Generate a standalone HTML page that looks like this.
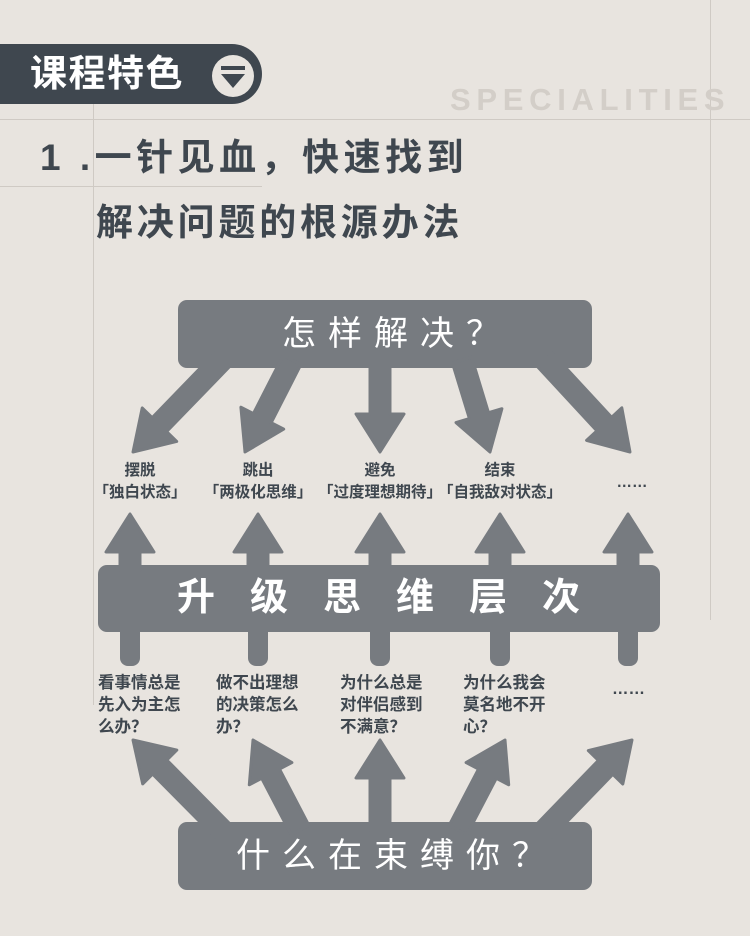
<!DOCTYPE html>
<html><head><meta charset="utf-8">
<style>
html,body{margin:0;padding:0;}
body{width:750px;height:936px;background:#e8e4df;position:relative;overflow:hidden;font-family:"Liberation Sans","Noto Sans CJK SC",sans-serif;}
.abs{position:absolute;}
.vl{position:absolute;width:1px;background:#cfcac4;}
.hl{position:absolute;height:1px;background:#cfcac4;}
.lbl{position:absolute;font-size:15.5px;font-weight:bold;color:#3f474f;text-align:center;line-height:22px;white-space:nowrap;}
.q{position:absolute;font-size:16.5px;font-weight:bold;color:#3f474f;line-height:22px;white-space:nowrap;}
</style></head><body>
<div class="vl" style="left:93px;top:100px;height:605px;"></div>
<div class="vl" style="left:710px;top:0;height:620px;"></div>
<div class="hl" style="left:0;top:119px;width:750px;"></div>
<div class="hl" style="left:0;top:186px;width:262px;"></div>

<div class="abs" style="left:0;top:44px;width:262px;height:60px;background:#3f474f;border-radius:0 30px 30px 0;"></div>
<div class="abs" style="left:30px;top:51px;font-size:37px;font-weight:bold;color:#fff;line-height:46px;letter-spacing:1.5px;">课程特色</div>
<svg class="abs" style="left:210px;top:53px" width="46" height="46">
<circle cx="23" cy="23" r="21" fill="#e8e4df"/>
<rect x="11" y="13" width="24" height="4" fill="#3f474f"/>
<polygon points="11,21 35,21 23,35" fill="#3f474f"/>
</svg>
<div class="abs" style="left:450px;top:82px;font-size:31px;font-weight:bold;color:#d3cec8;letter-spacing:5.7px;line-height:36px;">SPECIALITIES</div>

<div class="abs" style="left:40px;top:135px;font-size:37px;font-weight:bold;color:#3f474f;line-height:46px;letter-spacing:4.5px;">1 .一针见血，快速找到</div>
<div class="abs" style="left:96px;top:200px;font-size:37px;font-weight:bold;color:#3f474f;line-height:46px;letter-spacing:3.8px;">解决问题的根源办法</div>

<svg class="abs" style="left:0;top:0" width="750" height="936" id="sv">
<rect x="178" y="300" width="414" height="68" rx="9" fill="#777b80"/>
<rect x="98" y="565" width="562" height="67" rx="9" fill="#777b80"/>
<rect x="178" y="822" width="414" height="68" rx="9" fill="#777b80"/>
</svg>

<div class="abs" style="left:190px;top:312px;width:414px;text-align:center;font-size:34px;color:#fff;letter-spacing:12px;line-height:44px;">怎样解决？</div>
<div class="abs" style="left:115px;top:575px;width:562px;text-align:center;font-size:38px;font-weight:bold;color:#fff;letter-spacing:35px;line-height:46px;">升级思维层次</div>
<div class="abs" style="left:190px;top:834px;width:414px;text-align:center;font-size:34px;color:#fff;letter-spacing:12px;line-height:44px;">什么在束缚你？</div>

<div class="lbl" style="left:85px;top:460px;width:110px;">摆脱<br>「独白状态」</div>
<div class="lbl" style="left:193px;top:460px;width:130px;">跳出<br>「两极化思维」</div>
<div class="lbl" style="left:315px;top:460px;width:130px;">避免<br>「过度理想期待」</div>
<div class="lbl" style="left:435px;top:460px;width:130px;">结束<br>「自我敌对状态」</div>
<div class="lbl" style="left:602px;top:472px;width:60px;">……</div>

<div class="q" style="left:98px;top:672px;">看事情总是<br>先入为主怎<br>么办？</div>
<div class="q" style="left:216px;top:672px;">做不出理想<br>的决策怎么<br>办？</div>
<div class="q" style="left:340px;top:672px;">为什么总是<br>对伴侣感到<br>不满意？</div>
<div class="q" style="left:463px;top:672px;">为什么我会<br>莫名地不开<br>心？</div>
<div class="q" style="left:612px;top:678px;">……</div>

<script>
var sv=document.getElementById('sv'),C='#777b80',NS='http://www.w3.org/2000/svg';
function arrow(x1,y1,x2,y2){
 var dx=x2-x1,dy=y2-y1,L=Math.sqrt(dx*dx+dy*dy),ux=dx/L,uy=dy/L,px=-uy,py=ux;
 var hl=38,hw=24,sw=10;
 var bx=x2-ux*hl,by=y2-uy*hl;
 var pts=[[x1+px*sw,y1+py*sw],[bx+px*sw,by+py*sw],[bx+px*hw,by+py*hw],[x2,y2],[bx-px*hw,by-py*hw],[bx-px*sw,by-py*sw],[x1-px*sw,y1-py*sw]];
 var p=document.createElementNS(NS,'polygon');
 p.setAttribute('points',pts.map(function(a){return a[0].toFixed(1)+','+a[1].toFixed(1)}).join(' '));
 p.setAttribute('fill',C);p.setAttribute('stroke',C);p.setAttribute('stroke-width','3');p.setAttribute('stroke-linejoin','round');
 sv.appendChild(p);
}
function shaft(x,y1,y2){var r=document.createElementNS(NS,'rect');r.setAttribute('x',x-10);r.setAttribute('y',y1);r.setAttribute('width',20);r.setAttribute('height',y2-y1);r.setAttribute('rx',8);r.setAttribute('fill',C);sv.appendChild(r);}
arrow(222,360,133,452);arrow(292,360,245,452);arrow(380,360,380,452);arrow(462,360,490,452);arrow(545,360,630,452);
[130,258,380,500,628].forEach(function(x){shaft(x,560,666);arrow(x,570,x,514);});
arrow(222,830,133,740);arrow(300,830,253,740);arrow(380,830,380,740);arrow(458,830,505,740);arrow(545,830,632,740);
</script>
</body></html>
